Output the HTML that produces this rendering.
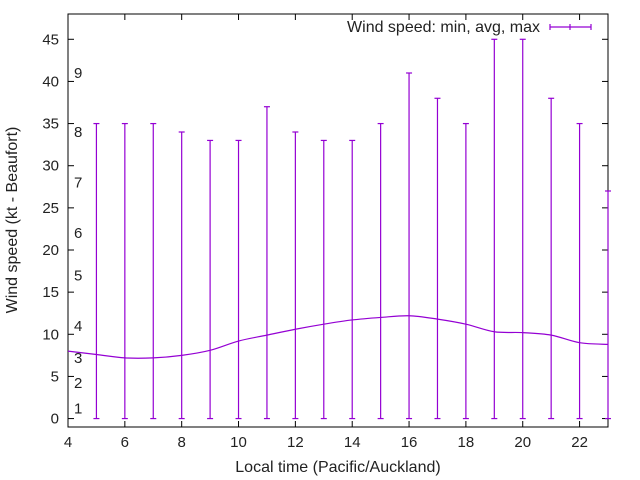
<!DOCTYPE html>
<html><head><meta charset="utf-8"><style>
html,body{margin:0;padding:0;background:#fff;}
svg{display:block;font-family:"Liberation Sans",sans-serif;}
</style></head><body>
<svg id="chart" width="640" height="480">
<g id="frame"></g>
</svg>
<script>
const hours=[4,5,6,7,8,9,10,11,12,13,14,15,16,17,18,19,20,21,22,23];
const avgValues=[8,7.6,7.2,7.2,7.5,8.1,9.2,9.9,10.6,11.2,11.7,12.0,12.2,11.8,11.2,10.3,10.2,9.9,9.0,8.8];
const minValues=[0,0,0,0,0,0,0,0,0,0,0,0,0,0,0,0,0,0,0,0];
const maxValues=[null,35,35,35,34,33,33,37,34,33,33,35,41,38,35,45,45,38,35,27];
const xTicks=[4,6,8,10,12,14,16,18,20,22];
const yTicks=[0,5,10,15,20,25,30,35,40,45];
const beaufortLabels=["1","2","3","4","5","6","7","8","9"];
const beaufortY=[1.2,4.2,7.2,11,17,22,28,34,41];

const L=68,R=608,T=14,B=427;
const xMin=4,xMax=23,yMin=-1,yMax=48;
const xs=v=>L+(v-xMin)/(xMax-xMin)*(R-L);
const ys=v=>B-(v-yMin)/(yMax-yMin)*(B-T);
const svg=document.getElementById('chart');
const NS='http://www.w3.org/2000/svg';
function mk(tag,attrs,parent){const e=document.createElementNS(NS,tag);for(const k in attrs)e.setAttribute(k,attrs[k]);(parent||svg).appendChild(e);return e;}

let fr=mk('rect',{x:L,y:T,width:R-L,height:B-T,fill:'none',stroke:'#000','stroke-width':1});



yTicks.forEach(v=>{
  const y=ys(v);
  let t=mk('line',{x1:L,x2:L+6,y1:y,y2:y,stroke:'#000'});
  
  
  let t2=mk('line',{x1:R,x2:R-6,y1:y,y2:y,stroke:'#000'});
  
  
  let lb=mk('text',{x:L-9,y:y+5,'text-anchor':'end','font-size':15,fill:'#222'});
  lb.textContent=v;
  
  
});
xTicks.forEach(v=>{
  const x=xs(v);
  let t=mk('line',{x1:x,x2:x,y1:B,y2:B-6,stroke:'#000'});
  
  
  let t2=mk('line',{x1:x,x2:x,y1:T,y2:T+6,stroke:'#000'});
  
  
  let lb=mk('text',{x:x,y:B+20,'text-anchor':'middle','font-size':15,fill:'#222'});
  lb.textContent=v;
  
  
});
beaufortLabels.forEach((s,i)=>{
  let lb=mk('text',{x:74,y:ys(beaufortY[i])+5,'font-size':15,fill:'#222'});
  lb.textContent=s;
  
  
});

const col='#9400d3';
hours.forEach((h,i)=>{
  if(maxValues[i]==null)return;
  const x=xs(h),y0=ys(minValues[i]),y1=ys(maxValues[i]);
  const g=mk('g',{stroke:col,'stroke-width':1.2});
  
  
  mk('line',{x1:x,x2:x,y1:y0,y2:y1},g);
  mk('line',{x1:x-3,x2:x+3,y1:y0,y2:y0},g);
  mk('line',{x1:x-3,x2:x+3,y1:y1,y2:y1},g);
});
const P=hours.map((h,i)=>[xs(h),ys(avgValues[i])]);
let d='M'+P[0][0]+','+P[0][1];
for(let i=0;i<P.length-1;i++){
  const p0=P[Math.max(0,i-1)],p1=P[i],p2=P[i+1],p3=P[Math.min(P.length-1,i+2)];
  const c1=[p1[0]+(p2[0]-p0[0])/6,p1[1]+(p2[1]-p0[1])/6];
  const c2=[p2[0]-(p3[0]-p1[0])/6,p2[1]-(p3[1]-p1[1])/6];
  d+=` C${c1[0]},${c1[1]} ${c2[0]},${c2[1]} ${p2[0]},${p2[1]}`;
}
let ln=mk('path',{d:d,fill:'none',stroke:col,'stroke-width':1.2});



let lt=mk('text',{x:540,y:32,'text-anchor':'end','font-size':16,fill:'#222'});
lt.textContent='Wind speed: min, avg, max';


const lg=mk('g',{stroke:col,'stroke-width':1.2});


mk('line',{x1:550,x2:591,y1:27,y2:27},lg);
mk('line',{x1:550,x2:550,y1:24,y2:30},lg);
mk('line',{x1:591,x2:591,y1:24,y2:30},lg);
mk('line',{x1:570,x2:570,y1:24,y2:30},lg);

let xt=mk('text',{x:338,y:472,'text-anchor':'middle','font-size':16,fill:'#222'});
xt.textContent='Local time (Pacific/Auckland)';


let yt=mk('text',{x:0,y:0,'text-anchor':'middle','font-size':16,fill:'#222',transform:'translate(17,220) rotate(-90)'});
yt.textContent='Wind speed (kt - Beaufort)';


</script>
</body></html>
